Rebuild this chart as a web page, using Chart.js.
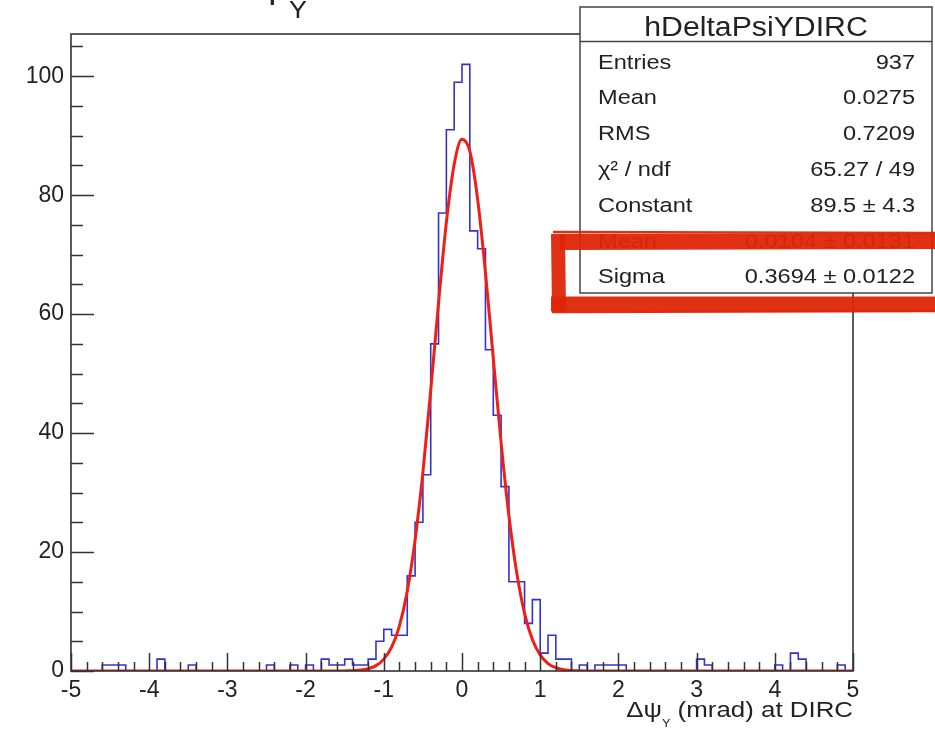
<!DOCTYPE html>
<html>
<head>
<meta charset="utf-8">
<script src="https://cdn.jsdelivr.net/npm/chart.js@4.4.1/dist/chart.umd.min.js"></script>
<style>
    html, body { margin: 0; padding: 0; background: #fff; }
    #wrap { width: 935px; height: 731px; position: relative; }
</style>
</head>
<body>
<div id="wrap"><canvas id="histChart"></canvas></div>
<script>
// Histogram hDeltaPsiYDIRC: 100 bins between -5 and 5
const binLow = -5;
const binHigh = 5;
const binCounts = [
    0, 0, 0, 0, 1, 1, 1, 0, 0, 0,      // -5.0 .. -4.1
    0, 2, 0, 0, 0, 1, 0, 0, 0, 0,      // -4.0 .. -3.1
    0, 0, 0, 0, 0, 1, 0, 0, 1, 0,      // -3.0 .. -2.1
    1, 0, 2, 1, 1, 2, 1, 1, 2, 5,      // -2.0 .. -1.1
    7, 6, 6, 16, 25, 33, 55, 77, 91, 99,   // -1.0 .. -0.1
    102, 74, 71, 54, 43, 31, 15, 15, 8, 12, // 0.0 .. 0.9
    3, 6, 2, 2, 0, 1, 0, 1, 1, 1,      // 1.0 .. 1.9
    1, 0, 0, 0, 0, 0, 0, 0, 0, 0,      // 2.0 .. 2.9
    2, 1, 0, 0, 0, 0, 0, 0, 0, 0,      // 3.0 .. 3.9
    1, 0, 3, 2, 0, 0, 0, 0, 1, 0       // 4.0 .. 4.9
];

// Gaussian fit curve
const fitX = [-5, -1.6, -1.5, -1.4, -1.3, -1.2, -1.1, -1.0, -0.9, -0.8, -0.7, -0.6, -0.5, -0.4, -0.3, -0.2, -0.1,
              0, 0.1, 0.2, 0.3, 0.4, 0.5, 0.6, 0.7, 0.8, 0.9, 1.0, 1.1, 1.2, 1.3, 1.4, 1.5, 1.6, 5];
const fitY = [0, 0, 0.02, 0.05, 0.15, 0.38, 0.9, 2.0, 4.0, 7.6, 13.4, 22.0, 33.4, 47.2, 61.9, 75.4, 85.2,
              89.4, 87.4, 79.3, 67.0, 52.6, 38.4, 26.1, 16.5, 9.7, 5.3, 2.7, 1.25, 0.55, 0.22, 0.08, 0.03, 0, 0];

// Axes
const xTickValues = [-5, -4, -3, -2, -1, 0, 1, 2, 3, 4, 5];
const yTickValues = [0, 20, 40, 60, 80, 100];
const yMax = 107.1;

// Stats box
const statsTitle = 'hDeltaPsiYDIRC';
const statsNames = ['Entries', 'Mean', 'RMS', 'χ² / ndf', 'Constant', 'Mean', 'Sigma'];
const statsValues = ['937', '0.0275', '0.7209', '65.27 / 49', '89.5 ± 4.3', '0.0104 ± 0.0131', '0.3694 ± 0.0122'];

const FONT = '"Liberation Sans", Arial, Helvetica, sans-serif';
const TEXT_COLOR = '#222';

// build step outline from bin edges
const binWidth = (binHigh - binLow) / binCounts.length;
const histPoints = binCounts.map((c, i) => ({ x: binLow + i * binWidth, y: c }));
histPoints.push({ x: binHigh, y: binCounts[binCounts.length - 1] });

const fitPoints = fitX.map((x, i) => ({ x: x, y: fitY[i] }));

// stretched text, the picture is a bit wider than tall
function drawText(ctx, str, x, y, size, align, sx) {
    ctx.save();
    ctx.translate(x, y);
    ctx.scale(sx, 1);
    ctx.font = size + 'px ' + FONT;
    ctx.textAlign = align;
    ctx.textBaseline = 'alphabetic';
    ctx.fillText(str, 0, 0);
    ctx.restore();
}

function textWidth(ctx, str, size, sx) {
    ctx.font = size + 'px ' + FONT;
    return ctx.measureText(str).width * sx;
}

// frame and ROOT style ticks drawn inside the frame
const rootFrame = {
    id: 'rootFrame',
    afterDatasetsDraw(chart) {
        const { ctx, chartArea: a, scales } = chart;
        const xs = scales.x, ys = scales.y;
        ctx.save();
        ctx.strokeStyle = '#333';
        ctx.lineWidth = 1.5;
        ctx.beginPath();
        for (let k = 0; k <= 50; k++) {
            const v = binLow + k * 0.2;
            const px = Math.round(xs.getPixelForValue(v)) + 0.5;
            const len = (k % 5 === 0) ? 18 : 9;
            ctx.moveTo(px, a.bottom);
            ctx.lineTo(px, a.bottom - len);
        }
        for (let k = 0; k * 5 <= yMax; k++) {
            const py = Math.round(ys.getPixelForValue(k * 5)) + 0.5;
            const len = (k % 4 === 0) ? 23 : 12;
            ctx.moveTo(a.left, py);
            ctx.lineTo(a.left + len, py);
        }
        ctx.stroke();
        ctx.lineWidth = 1.6;
        ctx.strokeRect(a.left, a.top, a.right - a.left, a.bottom - a.top);
        ctx.restore();
    }
};

// titles, stats box and the red marker box
const rootOverlay = {
    id: 'rootOverlay',
    afterDraw(chart) {
        const ctx = chart.ctx;
        const a = chart.chartArea;
        ctx.save();
        ctx.fillStyle = TEXT_COLOR;

        // main title, mostly above the picture
        drawText(ctx, 'Δψ', 286, -2, 34, 'right', 1.12);
        drawText(ctx, 'Y', 289, 18, 24, 'left', 1.12);

        // x axis title with subscript
        const sx = 1.15;
        const w1 = textWidth(ctx, 'Δψ', 22.5, sx);
        const w2 = textWidth(ctx, 'Y', 11, sx);
        const w3 = textWidth(ctx, ' (mrad) at DIRC', 22.5, sx);
        let tx = a.right - (w1 + w2 + w3);
        drawText(ctx, 'Δψ', tx, 717, 22.5, 'left', sx);
        drawText(ctx, 'Y', tx + w1, 727, 11, 'left', sx);
        drawText(ctx, ' (mrad) at DIRC', tx + w1 + w2, 717, 22.5, 'left', sx);

        // stats box
        const bx = 580, by = 7, bw = 352, bh = 286;
        ctx.fillStyle = '#fff';
        ctx.fillRect(bx, by, bw, bh);
        ctx.strokeStyle = '#444';
        ctx.lineWidth = 1.5;
        ctx.strokeRect(bx, by, bw, bh);
        ctx.beginPath();
        ctx.moveTo(bx, 41.5);
        ctx.lineTo(bx + bw, 41.5);
        ctx.stroke();
        ctx.fillStyle = TEXT_COLOR;
        drawText(ctx, statsTitle, bx + bw / 2, 36, 27, 'center', 1.12);
        statsNames.forEach((name, i) => {
            const yy = 68.5 + i * 35.8;
            drawText(ctx, name, 598, yy, 20.5, 'left', 1.15);
            drawText(ctx, statsValues[i], 915, yy, 20.5, 'right', 1.15);
        });

        // hand drawn red marker round the Sigma row
        ctx.strokeStyle = 'rgba(222, 38, 8, 0.95)';
        ctx.lineCap = 'butt';
        ctx.lineJoin = 'round';
        ctx.lineWidth = 16;
        ctx.beginPath();
        ctx.moveTo(935, 241);
        ctx.lineTo(560, 242);
        ctx.stroke();
        ctx.lineWidth = 14;
        ctx.beginPath();
        ctx.moveTo(558, 234);
        ctx.lineTo(559, 311);
        ctx.stroke();
        ctx.lineWidth = 15;
        ctx.beginPath();
        ctx.moveTo(551, 304);
        ctx.lineTo(935, 304);
        ctx.stroke();
        ctx.lineWidth = 2.5;
        ctx.beginPath();
        ctx.moveTo(553, 232);
        ctx.lineTo(935, 233);
        ctx.moveTo(552, 312);
        ctx.lineTo(935, 311);
        ctx.stroke();
        ctx.restore();
    }
};

const ctx = document.getElementById('histChart').getContext('2d');

const histChart = new Chart(ctx, {
    type: 'line',
    data: {
        datasets: [
            {
                label: 'fit',
                data: fitPoints,
                borderColor: 'rgb(240, 30, 20)',
                borderWidth: 3,
                pointRadius: 0,
                fill: false,
                cubicInterpolationMode: 'monotone',
                order: 0
            },
            {
                label: 'hDeltaPsiYDIRC',
                data: histPoints,
                borderColor: 'rgb(50, 50, 210)',
                borderWidth: 1.6,
                pointRadius: 0,
                fill: false,
                stepped: 'before',
                order: 1
            }
        ]
    },
    options: {
        responsive: true,
        maintainAspectRatio: false,
        animation: false,
        layout: {
            padding: { top: 34, right: 82, left: 0, bottom: 0 }
        },
        scales: {
            x: {
                type: 'linear',
                min: binLow,
                max: binHigh,
                afterFit: s => { s.height = 60; },
                afterBuildTicks: s => { s.ticks = xTickValues.map(v => ({ value: v })); },
                grid: { display: false, drawTicks: false },
                border: { display: false },
                ticks: {
                    padding: 6,
                    color: TEXT_COLOR,
                    font: { family: FONT, size: 23 },
                    maxRotation: 0,
                    callback: v => String(v)
                }
            },
            y: {
                type: 'linear',
                min: 0,
                max: yMax,
                afterFit: s => { s.width = 71; },
                afterBuildTicks: s => { s.ticks = yTickValues.map(v => ({ value: v })); },
                grid: { display: false, drawTicks: false },
                border: { display: false },
                ticks: {
                    padding: 7,
                    color: TEXT_COLOR,
                    font: { family: FONT, size: 23 },
                    callback: v => String(v)
                }
            }
        },
        plugins: {
            legend: { display: false },
            tooltip: { enabled: false },
            title: { display: false }
        }
    },
    plugins: [rootFrame, rootOverlay]
});
</script>
</body>
</html>
